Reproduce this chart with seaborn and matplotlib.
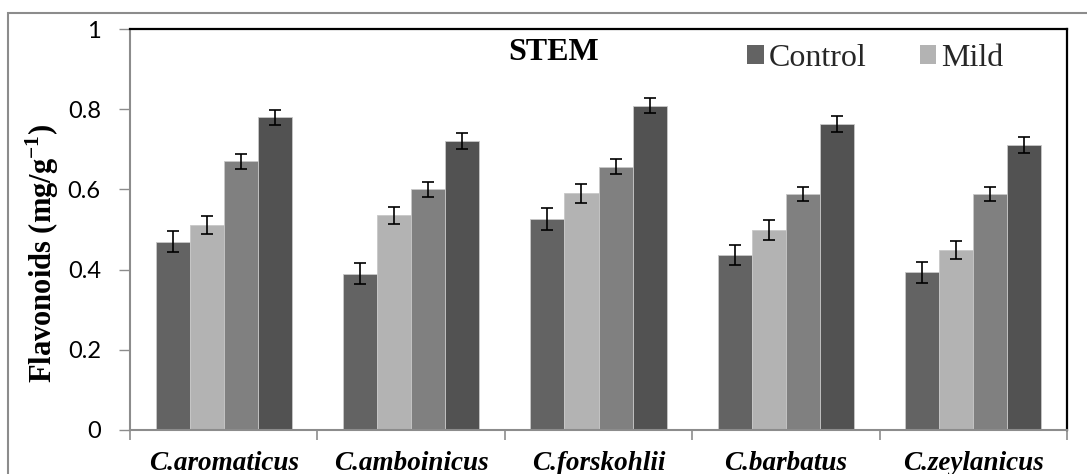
import numpy as np
import pandas as pd
import matplotlib
matplotlib.use("Agg")
import matplotlib.pyplot as plt
import seaborn as sns
from matplotlib.patches import Rectangle, Patch
from matplotlib.ticker import FixedLocator

# ---------------- data ----------------
species = ["C.aromaticus", "C.amboinicus", "C.forskohlii", "C.barbatus", "C.zeylanicus"]
treatments = ["Control", "Mild", "Moderate", "Severe"]
control = [0.470, 0.390, 0.526, 0.436, 0.393]
mild = [0.511, 0.535, 0.590, 0.499, 0.449]
moderate = [0.670, 0.600, 0.657, 0.589, 0.589]
severe = [0.780, 0.720, 0.809, 0.763, 0.711]
control_err = [0.026, 0.026, 0.027, 0.025, 0.027]
mild_err = [0.022, 0.022, 0.024, 0.024, 0.022]
moderate_err = [0.019, 0.019, 0.019, 0.018, 0.018]
severe_err = [0.019, 0.020, 0.019, 0.019, 0.020]
yticks = [0, 0.2, 0.4, 0.6, 0.8, 1.0]
ytick_labels = ["0", "0.2", "0.4", "0.6", "0.8", "1"]
legend_shown = ["Control", "Mild"]
colors = ["#636363", "#b3b3b3", "#808080", "#525252"]

values = [control, mild, moderate, severe]
errors = [control_err, mild_err, moderate_err, severe_err]
df = pd.DataFrame({
    "species": [s for t in treatments for s in species],
    "treatment": [t for t in treatments for _ in species],
    "value": [v for vals in values for v in vals],
})

# ---------------- style ----------------
sns.set_theme(style="white")
plt.rcParams["font.family"] = ["Liberation Serif", "DejaVu Serif"]
plt.rcParams["mathtext.fontset"] = "custom"
plt.rcParams["mathtext.bf"] = "Liberation Serif:bold"
plt.rcParams["mathtext.rm"] = "Liberation Serif"

fig = plt.figure(figsize=(10.87, 4.74), dpi=100)
ax = fig.add_axes([130 / 1087, 1 - 430 / 474, 937 / 1087, 401 / 474])

sns.barplot(data=df, x="species", y="value", hue="treatment",
            hue_order=treatments, order=species, palette=colors,
            saturation=1, width=0.726, errorbar=None, legend=False,
            edgecolor="#c8c8c8", linewidth=0.6, ax=ax)

for cont, errs in zip(ax.containers, errors):
    xs = [p.get_x() + p.get_width() / 2 for p in cont.patches]
    hs = [p.get_height() for p in cont.patches]
    ax.errorbar(xs, hs, yerr=errs, fmt="none", ecolor="black",
                elinewidth=1.2, capsize=4.6, capthick=1.2, zorder=3)

ax.set_ylim(0, 1)
ax.set_xlim(-0.5, len(species) - 0.5)
ax.tick_params(axis="y", direction="out", length=8, width=1, color="#8c8c8c",
               pad=13, left=True, labelsize=17, labelcolor="black")
ax.set_yticks(yticks)
ax.set_yticklabels(ytick_labels)
for lab in ax.get_yticklabels():
    lab.set_fontfamily(["Lato", "DejaVu Sans"])
    lab.set_fontsize(17)

ax.tick_params(axis="x", which="major", length=0, pad=15, labelsize=19.5, labelcolor="black")
ax.xaxis.set_minor_locator(FixedLocator(np.arange(-0.5, len(species), 1.0)))
ax.tick_params(axis="x", which="minor", direction="out", length=7, width=1.2, color="#8c8c8c", bottom=True)
ax.set_xticks(range(len(species)))
ax.set_xticklabels(species)
for lab in ax.get_xticklabels():
    lab.set_fontweight("bold")
    lab.set_fontstyle("italic")
    lab.set_fontsize(19.5)

ax.set_xlabel("")
ax.set_ylabel(r"Flavonoids (mg/g$^{\mathbf{-1}}$)", fontsize=22, fontweight="bold", color="black")
ax.yaxis.set_label_coords(-0.074, 0.44)

for side in ["top", "right"]:
    ax.spines[side].set_color("black")
    ax.spines[side].set_linewidth(1.6)
for side in ["left", "bottom"]:
    ax.spines[side].set_color("#8c8c8c")
    ax.spines[side].set_linewidth(1.5)

ax.text((553.7 - 130) / 937, (430 - 52.5) / 401, "STEM", transform=ax.transAxes,
        ha="center", va="center", fontsize=23, fontweight="bold", color="black")

handles = [Patch(facecolor=colors[treatments.index(t)], edgecolor="none", label=t) for t in legend_shown]
ax.legend(handles=handles, ncol=2, frameon=False, loc="upper left",
          bbox_to_anchor=((747 - 130) / 937, 0.963), borderpad=0, borderaxespad=0,
          prop={"family": "Liberation Serif", "size": 23},
          handlelength=0.53, handleheight=0.53, handletextpad=0.16, columnspacing=1.65)

fig.add_artist(Rectangle((8 / 1087, -0.2), 1.2, 1.2 - 13 / 474,
                         transform=fig.transFigure, fill=False,
                         edgecolor="#8c8c8c", linewidth=1.5))

fig.savefig("out.png", dpi=100)
